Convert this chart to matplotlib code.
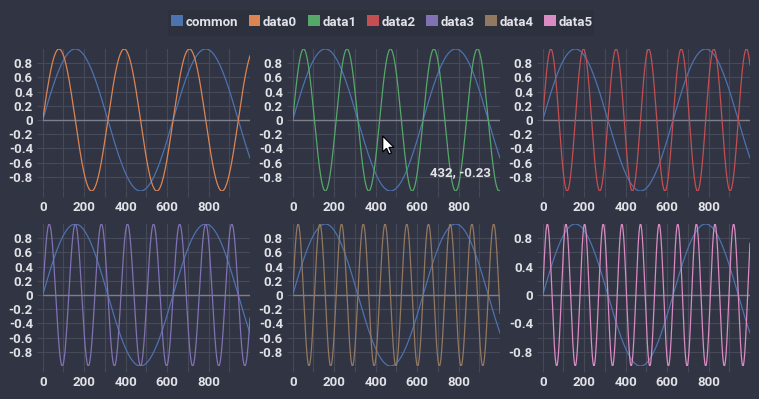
import numpy as np
import matplotlib
matplotlib.use('Agg')
import matplotlib.pyplot as plt
from matplotlib.patches import Patch, Polygon, FancyBboxPatch
from matplotlib.ticker import MultipleLocator, FixedLocator

plt.rcParams['font.family'] = ['Roboto', 'DejaVu Sans']
plt.rcParams['axes.unicode_minus'] = False

# series: every series is a sine wave, the only
# thing that differs is the period (x units per full cycle)
names = ['common', 'data0', 'data1', 'data2', 'data3', 'data4', 'data5']
periods = [628.3, 314.2, 209.4, 157.1, 125.7, 104.7, 89.76]
colors = ['#4c72b0', '#dd8452', '#55a868', '#c44e52', '#8172b3', '#937860', '#da8bc3']
x_first, x_last = 0, 999

x_ticks = [0, 200, 400, 600, 800]
y_step = [0.2, 0.2, 0.2, 0.2, 0.2, 0.4]   # labelled y step per panel
hover_label = '432, -0.23'

BG = '#313442'
GRID = '#464958'
TXT = '#e2e3e8'

xs = np.arange(x_first, x_last + 1)
series = {n: np.sin(2 * np.pi * xs / p) for n, p in zip(names, periods)}

W, H = 759, 399
fig = plt.figure(figsize=(W / 100, H / 100), dpi=100, facecolor=BG)

col_left = [42.7, 292.7, 542.7]
row_top = [49, 224]
aw, ah = 207.3, 142

axes = []
for i in range(6):
    r, c = divmod(i, 3)
    l = col_left[c] / W
    b = 1 - (row_top[r] + ah) / H
    ax = fig.add_axes([l, b, aw / W, ah / H])
    ax.set_facecolor(BG)
    for s in ax.spines.values():
        s.set_visible(False)

    ax.plot(xs, series['common'], color=colors[0], lw=0.9, zorder=3)
    ax.plot(xs, series[names[i + 1]], color=colors[i + 1], lw=0.9, zorder=4)
    ax.axhline(0, color='#7d808c', lw=1.0, zorder=2)

    ax.set_xlim(x_first, x_last)
    ax.set_ylim(-1, 1)

    ax.xaxis.set_major_locator(FixedLocator(x_ticks))
    ax.xaxis.set_minor_locator(MultipleLocator(100))
    ax.set_xticklabels([str(t) for t in x_ticks])

    ax.yaxis.set_minor_locator(FixedLocator(np.round(np.arange(-0.8, 0.81, 0.2), 1)))
    st = y_step[i]
    yt = np.round(np.arange(-0.8, 0.81, st), 1)
    ax.yaxis.set_major_locator(FixedLocator(yt))
    ax.set_yticklabels(['0' if abs(v) < 1e-9 else f'{v:g}' for v in yt])

    ax.grid(True, which='both', color=GRID, lw=0.8, zorder=0)
    ax.tick_params(which='both', length=4, width=0.8, color=GRID, pad=3,
                   labelcolor=TXT, labelsize=9.5)
    for lab in ax.get_xticklabels() + ax.get_yticklabels():
        lab.set_fontweight('bold')
    axes.append(ax)

# hover readout in the middle top panel
axes[1].text(662, -0.74, hover_label, color=TXT, fontsize=9.5,
             fontweight='bold', ha='left', va='center', zorder=6)

# mouse pointer (display pixels, origin bottom-left)
tx, ty = 382.7, H - 136
shape = np.array([[0, 0], [0, -16], [3.8, -12.4], [6.4, -18], [8.8, -17],
                  [6.3, -11.4], [11.3, -11.4]])
cursor = Polygon(shape + [tx, ty], closed=True, transform=None,
                 facecolor='white', edgecolor='black', lw=0.9, zorder=10)
fig.patches.append(cursor)

# legend box and legend
box = FancyBboxPatch((168 / W, 1 - 36 / H), 426 / W, 26 / H,
                     boxstyle='square,pad=0', transform=fig.transFigure,
                     facecolor='#2d303d', edgecolor='none', zorder=0)
fig.patches.append(box)
handles = [Patch(facecolor=c, edgecolor='none', label=n) for n, c in zip(names, colors)]
leg = fig.legend(handles=handles, loc='center', bbox_to_anchor=(382 / W, 1 - 22 / H),
                 ncol=7, frameon=False, handlelength=0.9, handleheight=0.9,
                 handletextpad=0.2, columnspacing=0.8, borderaxespad=0,
                 prop={'weight': 'bold', 'size': 9.5})
for t in leg.get_texts():
    t.set_color(TXT)

fig.savefig('out.png', dpi=100, facecolor=BG)
